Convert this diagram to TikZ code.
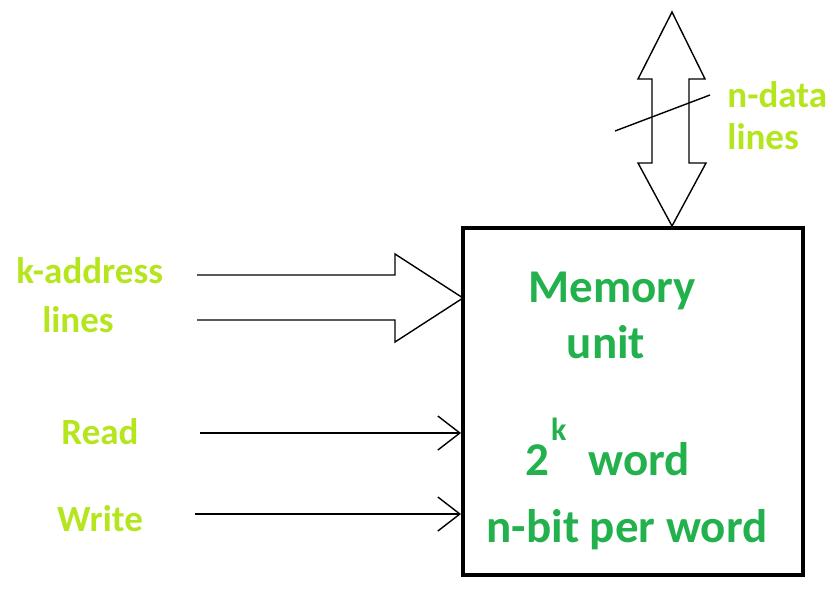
\documentclass[tikz,border=0pt]{standalone}
\usepackage{fontspec}
\setmainfont{Carlito}
\usetikzlibrary{arrows.meta}
\begin{document}
\begin{tikzpicture}[x=0.5pt, y=-0.5pt,
  lbl/.style={text=labelcol, font=\bfseries\fontsize{18.5}{21}\selectfont, inner sep=0pt},
  txt/.style={text=textcol, font=\bfseries\fontsize{23.5}{27}\selectfont, inner sep=0pt},
  sig/.style={line width=0.7pt, -{Straight Barb[length=11pt, width=17pt]}},
  blk/.style={line width=0.7pt, line join=miter}]
\definecolor{labelcol}{HTML}{B5E61D}
\definecolor{textcol}{HTML}{22B14C}
\useasboundingbox (0,0) rectangle (838,590);
\node[draw, line width=2pt, minimum width=170pt, minimum height=173.5pt, inner sep=0pt] (mem) at (633,401.5) {};
\node[txt, anchor=base] (memtxt) at (612,302) {Memory};
\node[txt, anchor=base] (unittxt) at (606,358) {unit};
\node[txt, anchor=base west] (wordtxt) at (525,475) {2\hspace{1pt}\raisebox{17.5pt}{\fontsize{16}{18}\selectfont k}\hspace{11pt}word};
\node[txt, anchor=base] (bittxt) at (627,542) {n-bit per word};
\node[lbl, anchor=base west] (addr) at (16,283) {k-address};
\node[lbl, anchor=base] (addrlines) at (78,332) {lines};
\node[lbl, anchor=base] (rd) at (100,444) {Read};
\node[lbl, anchor=base] (wr) at (100,531) {Write};
\node[lbl, anchor=base west] (data) at (727,107) {n-data};
\node[lbl, anchor=base west] (datalines) at (727,149) {lines};
\coordinate (rdin) at (200,433);
\coordinate (wrin) at (195,514);
\draw[sig] (rdin) -- (rdin -| mem.west);
\draw[sig] (wrin) -- (wrin -| mem.west);
\draw[blk] (197,275) -- (395,275) -- (395,254) -- (463,298) -- (395,342) -- (395,320) -- (197,320);
\draw[blk] (672,12) -- (705,79) -- (689,79) -- (689,163) -- (706,163) -- (672,226) -- (638,163) -- (652,163) -- (652,79) -- (638,79) -- cycle;
\draw[line width=0.7pt] (615,131) -- (710,95);
\end{tikzpicture}
\end{document}
